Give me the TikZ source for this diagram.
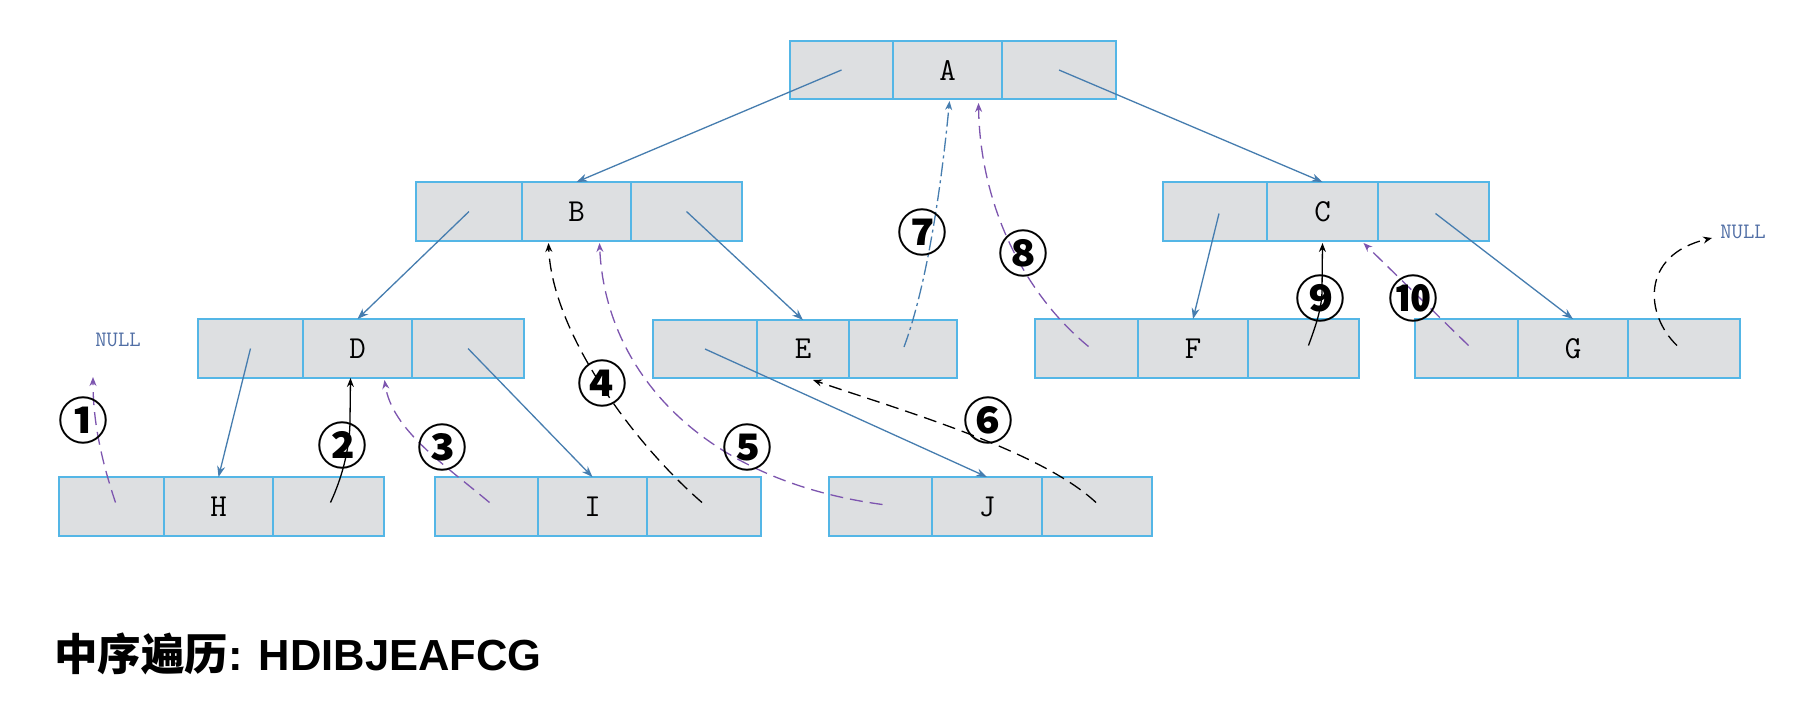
\documentclass[tikz,border=0pt]{standalone}
\usepackage{fontspec}
\usetikzlibrary{arrows.meta}
\newfontfamily\cjk{Noto Sans CJK SC}
\newfontfamily\arialb{Liberation Sans}
\definecolor{cellfill}{RGB}{221,223,225}
\definecolor{cellline}{RGB}{84,182,230}
\definecolor{edgeblue}{RGB}{70,125,175}
\definecolor{purp}{RGB}{125,85,175}
\definecolor{nullc}{RGB}{80,110,165}
\tikzset{
 cell/.style={draw=cellline, fill=cellfill, line width=1.8pt, inner sep=0pt, outer sep=0pt, anchor=north west},
 lbl/.style={font=\ttfamily\fontsize{32}{32}\selectfont},
 edge/.style={draw=edgeblue, line width=1.3pt, -{Stealth[length=11pt,width=8pt]}},
 trav/.style={line width=1.3pt, dash pattern=on 13pt off 7pt, -{Stealth[length=9pt,width=7pt]}},
 travk/.style={trav, draw=black},
 travp/.style={trav, draw=purp},
 travb/.style={trav, draw=edgeblue, dash pattern=on 14pt off 4pt on 3pt off 4pt},
 solidk/.style={line width=1.3pt, draw=black, -{Stealth[length=9pt,width=7pt]}},
 num/.style={font=\cjk\bfseries\fontsize{50}{50}\selectfont, inner sep=0pt},
 nulltxt/.style={font=\ttfamily\fontsize{22}{22}\selectfont, text=nullc, inner sep=0pt}
}
\newcommand{\tribox}[8]{%
  \pgfmathsetmacro{\wa}{#3-#2}\pgfmathsetmacro{\wb}{#4-#3}%
  \pgfmathsetmacro{\wc}{#5-#4}\pgfmathsetmacro{\hh}{#7-#6}%
  \node[cell, minimum width=\wa pt, minimum height=\hh pt] (#1l) at (#2,#6) {};
  \node[cell, lbl, minimum width=\wb pt, minimum height=\hh pt] (#1m) at (#3,#6) {#8};
  \node[cell, minimum width=\wc pt, minimum height=\hh pt] (#1r) at (#4,#6) {};
}
\begin{document}
\begin{tikzpicture}[x=1pt,y=-1pt]
\useasboundingbox (0,0) rectangle (1820,724);
\fill[white] (0,0) rectangle (1820,724);

\tribox{A}{790}{893}{1002}{1116}{41}{99}{A}
\tribox{B}{416}{522}{631}{742}{182}{241}{B}
\tribox{C}{1163}{1267}{1378}{1489}{182}{241}{C}
\tribox{D}{198}{303}{412}{524}{319}{378}{D}
\tribox{E}{653}{757}{849}{957}{320}{378}{E}
\tribox{F}{1035}{1138}{1248}{1359}{319}{378}{F}
\tribox{G}{1415}{1518}{1628}{1740}{319}{378}{G}
\tribox{H}{59}{164}{273}{384}{477}{536}{H}
\tribox{I}{435}{538}{647}{761}{477}{536}{I}
\tribox{J}{829}{932}{1042}{1152}{477}{536}{J}

% tree edges
\draw[edge] (Al.center) -- (Bm.north);
\draw[edge] (Ar.center) -- (Cm.north);
\draw[edge] (Bl.center) -- (Dm.north);
\draw[edge] (Br.center) -- (Em.north);
\draw[edge] ([shift={(4,2)}]Cl.center) -- (Fm.north);
\draw[edge] ([shift={(2,2)}]Cr.center) -- (Gm.north);
\draw[edge] (Dl.center) -- (Hm.north);
\draw[edge] (Dr.center) -- (Im.north);
\draw[edge] (El.center) -- (Jm.north);

% NULL labels
\node[nulltxt] (nullL) at (118,340) {NULL};
\node[nulltxt] (nullR) at (1743,232) {NULL};
\coordinate (tipL) at (93,377);
\coordinate (tipR) at (1712,238);

% traversal
\draw[travp] ([shift={(4,-4)}]Hl.center) .. controls (103,465) and (93,425) .. (tipL);
\draw[solidk] ([shift={(2,-4)}]Hr.center) .. controls (341,480) and (350,450) .. (350,420) -- ([shift={(-7,0)}]Dm.south);
\draw[travp] ([shift={(3,-4)}]Il.center) .. controls (445,465) and (392,430) .. ([shift={(27,2)}]Dm.south);
\draw[travk] ([shift={(-2,-4)}]Ir.center) .. controls (630,440) and (552,330) .. ([shift={(-28,2)}]Bm.south);
\draw[travp] ([shift={(2,-2)}]Jl.center) .. controls (700,480) and (605,370) .. ([shift={(23,2)}]Bm.south);
\draw[travk] ([shift={(-1,-4)}]Jr.center) .. controls (1040,450) and (900,410) .. ([shift={(10,2)}]Em.south);
\draw[travb] ([shift={(1,-2)}]Er.center) .. controls (925,290) and (940,200) .. ([shift={(2,2)}]Am.south);
\draw[travp] ([shift={(2,-2)}]Fl.center) .. controls (1020,290) and (980,200) .. ([shift={(31,4)}]Am.south);
\draw[solidk] ([shift={(5,-3)}]Fr.center) .. controls (1314,330) and (1322,310) .. (1322,290) -- ([shift={(0,2)}]Cm.south);
\draw[travp] ([shift={(2,-3)}]Gl.center) -- ([shift={(41,2)}]Cm.south);
\draw[travk] ([shift={(-7,-3)}]Gr.center) .. controls (1645,315) and (1640,255) .. (tipR);

% step numbers
\node[num] (s1) at (83,420) {①};
\node[num] (s2) at (342,445) {②};
\node[num] (s3) at (442,447) {③};
\node[num] (s4) at (602,383) {④};
\node[num] (s5) at (747,447) {⑤};
\node[num] (s6) at (988,420) {⑥};
\node[num] (s7) at (922,232) {⑦};
\node[num] (s8) at (1023,253) {⑧};
\node[num] (s9) at (1320,298) {⑨};
\node[num] (s10) at (1413,298) {⑩};

% caption
\node[anchor=base west, inner sep=0pt] (title) at (54,670) {{\cjk\bfseries\fontsize{43.5}{43.5}\selectfont 中序遍历}{\arialb\bfseries\fontsize{43.5}{43.5}\selectfont : HDIBJEAFCG}};
\end{tikzpicture}
\end{document}
